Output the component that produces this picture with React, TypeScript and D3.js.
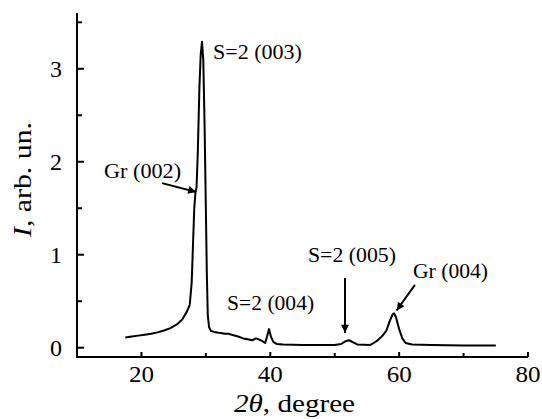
import React, { useEffect, useRef } from 'react'
import * as d3 from 'd3'

// diffraction pattern
const twoTheta = [
  17.5, 18.5, 19.5, 20.5, 21.5, 22.5, 23.5, 24.5, 25.5, 26.3, 27.0, 27.5,
  27.8, 28.0, 28.2, 28.4, 28.55, 28.75, 29.0, 29.2, 29.4, 29.6, 29.8, 30.0,
  30.15, 30.3, 30.5, 30.8, 31.3, 32, 33, 33.5, 34, 35, 35.8, 36.5, 37.2,
  37.8, 38.2, 38.8, 39.2, 39.5, 39.8, 40.1, 40.5, 41, 42, 45, 48, 50, 51,
  51.7, 52.2, 52.8, 53.5, 55.5, 55.8, 56.5, 57.3, 58.0, 58.5, 59.0, 59.2,
  59.5, 60.0, 60.5, 61, 62, 65, 70, 75,
]
const intensity = [
  0.11, 0.12, 0.13, 0.14, 0.15, 0.165, 0.185, 0.21, 0.25, 0.3, 0.38, 0.46,
  0.7, 1.1, 1.5, 1.68, 1.72, 2.1, 2.8, 3.15, 3.29, 3.1, 2.4, 1.5,
  0.8, 0.35, 0.22, 0.18, 0.17, 0.16, 0.15, 0.15, 0.14, 0.12, 0.1, 0.09, 0.08,
  0.1, 0.09, 0.07, 0.05, 0.12, 0.2, 0.12, 0.06, 0.04, 0.035, 0.03, 0.03, 0.03, 0.04,
  0.07, 0.08, 0.06, 0.035, 0.03, 0.04, 0.07, 0.12, 0.18, 0.28, 0.36, 0.37,
  0.33, 0.2, 0.1, 0.05, 0.035, 0.03, 0.025, 0.025,
]
const xTicks = [20, 40, 60, 80]
const xMinor = [30, 50, 70]
const yTicks = [0, 1, 2, 3]
const yMinor = [0.5, 1.5, 2.5, 3.5]

// peak labels: text start / baseline and arrow, in data units
const labels = [
  { text: 'S=2 (003)', x: 31.1, y: 3.1, len: 89, arrow: null },
  { text: 'Gr (002)', x: 14.2, y: 1.825, len: 77, arrow: [[23.2, 1.77], [28.5, 1.675]] },
  { text: 'S=2 (004)', x: 33.3, y: 0.405, len: 87, arrow: null },
  { text: 'S=2 (005)', x: 45.85, y: 0.92, len: 88, arrow: [[51.6, 0.75], [51.6, 0.16]] },
  { text: 'Gr (004)', x: 62.15, y: 0.75, len: 75, arrow: [[62.45, 0.675], [59.6, 0.4]] },
]

export default function App() {
  const ref = useRef<SVGSVGElement>(null)

  useEffect(() => {
    const svg = d3.select(ref.current)
    svg.selectAll('*').remove()

    const x = d3.scaleLinear().domain([10, 80]).range([77, 528])
    const y = d3.scaleLinear().domain([-0.1, 3.6]).range([357, 13])

    svg.append('defs').append('marker')
      .attr('id', 'head')
      .attr('viewBox', '0 0 10 10')
      .attr('refX', 10).attr('refY', 5)
      .attr('markerWidth', 4.5).attr('markerHeight', 4)
      .attr('markerUnits', 'strokeWidth')
      .attr('orient', 'auto')
      .append('path').attr('d', 'M0,0 L10,5 L0,10 z').attr('fill', '#000')

    // axes
    const g = svg.append('g').attr('stroke', '#000').attr('stroke-width', 2)
    g.append('line').attr('x1', x(10) - 1).attr('x2', x(80)).attr('y1', y(-0.1)).attr('y2', y(-0.1))
    g.append('line').attr('x1', x(10)).attr('x2', x(10)).attr('y1', y(-0.1)).attr('y2', y(3.6))

    xTicks.concat(xMinor).forEach(t => {
      g.append('line').attr('x1', x(t)).attr('x2', x(t))
        .attr('y1', y(-0.1)).attr('y2', y(-0.1) - (xMinor.includes(t) ? 4 : 5))
    })
    yTicks.concat(yMinor).forEach(t => {
      g.append('line').attr('y1', y(t)).attr('y2', y(t))
        .attr('x1', x(10)).attr('x2', x(10) + (yMinor.includes(t) ? 5 : 7))
    })

    svg.selectAll('.xl').data(xTicks).enter().append('text')
      .attr('x', d => x(d)).attr('y', 382)
      .attr('text-anchor', 'middle')
      .attr('font-size', 24)
      .attr('textLength', 25).attr('lengthAdjust', 'spacingAndGlyphs')
      .text(d => d)
    svg.selectAll('.yl').data(yTicks).enter().append('text')
      .attr('x', 62).attr('y', d => y(d) + 8)
      .attr('text-anchor', 'end')
      .attr('font-size', 24)
      .text(d => d)

    // axis titles
    const xt = svg.append('text').attr('x', 234).attr('y', 412)
      .attr('font-size', 25)
      .attr('textLength', 121).attr('lengthAdjust', 'spacingAndGlyphs')
    xt.append('tspan').text('2θ').attr('font-style', 'italic')
    xt.append('tspan').text(', degree')

    const yt = svg.append('text').attr('transform', 'translate(31,237) rotate(-90)')
      .attr('font-size', 25)
      .attr('textLength', 115).attr('lengthAdjust', 'spacingAndGlyphs')
    yt.append('tspan').text('I').attr('font-style', 'italic')
    yt.append('tspan').text(', arb. un.')

    // pattern
    const pts: [number, number][] = twoTheta.map((t, i) => [t, intensity[i]])
    const line = d3.line<[number, number]>().x(d => x(d[0])).y(d => y(d[1]))
    svg.append('path').datum(pts)
      .attr('d', line)
      .attr('fill', 'none').attr('stroke', '#000')
      .attr('stroke-width', 2).attr('stroke-linejoin', 'round')

    // labels
    labels.forEach(l => {
      svg.append('text').attr('x', x(l.x)).attr('y', y(l.y))
        .attr('font-size', 22)
        .attr('textLength', l.len).attr('lengthAdjust', 'spacingAndGlyphs')
        .text(l.text)
      if (l.arrow) {
        svg.append('line')
          .attr('x1', x(l.arrow[0][0])).attr('y1', y(l.arrow[0][1]))
          .attr('x2', x(l.arrow[1][0])).attr('y2', y(l.arrow[1][1]))
          .attr('stroke', '#000').attr('stroke-width', 2)
          .attr('marker-end', 'url(#head)')
      }
    })
  }, [])

  return (
    <svg ref={ref} width={542} height={419} fontFamily="Liberation Serif"
      style={{ position: 'absolute', left: 0, top: 0, background: '#fff' }} />
  )
}
